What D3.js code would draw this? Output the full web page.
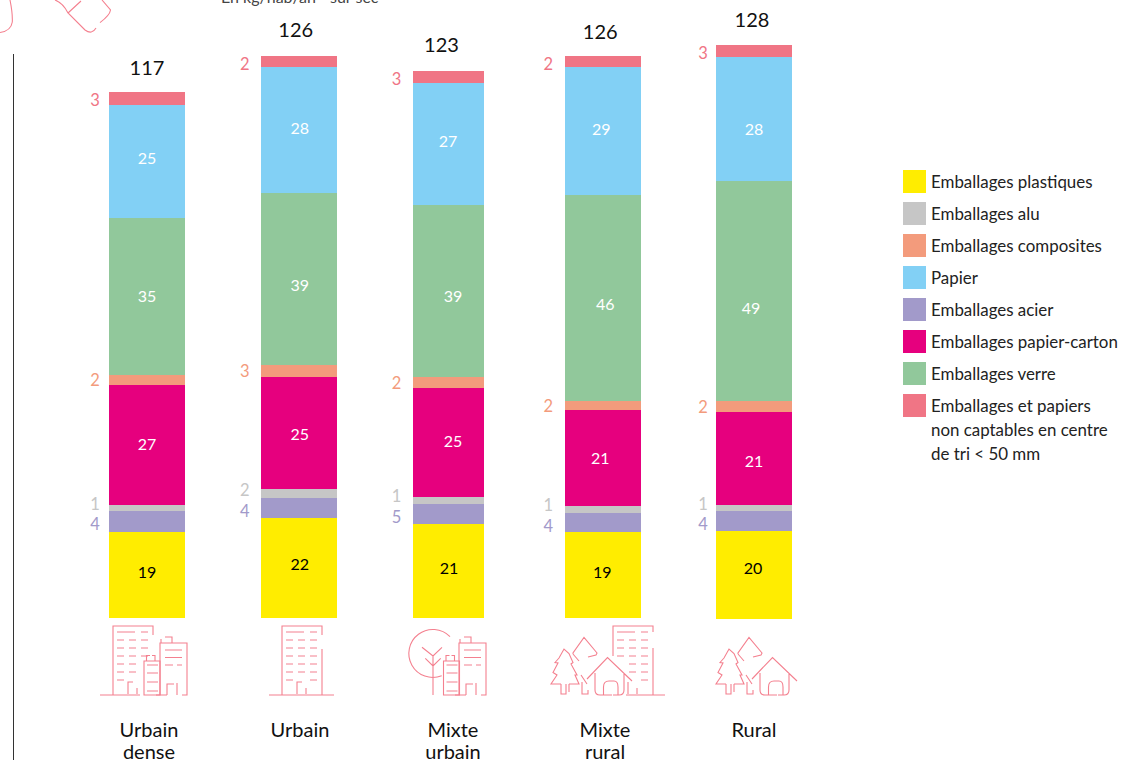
<!DOCTYPE html>
<html>
<head>
<meta charset="utf-8">
<script src="https://cdn.jsdelivr.net/npm/d3@7"></script>
<style>
  html, body { margin: 0; padding: 0; background: #fff; overflow: hidden; }
  svg { display: block; }
  text { font-family: Lato, sans-serif; }
</style>
</head>
<body>
<svg id="chart" width="1137" height="760"></svg>
<script>
const categories = ['Urbain dense', 'Urbain', 'Mixte urbain', 'Mixte rural', 'Rural'];
const totals = [117, 126, 123, 126, 128];

// Heights, in kg/hab/an
const plastiques = [19.1, 22.2, 20.9, 19.1, 19.6];
const acier = [4.7, 4.4, 4.4, 4.2, 4.4];
const alu = [1.3, 2, 1.6, 1.6, 1.3];
const carton = [26.7, 24.9, 24.2, 21.3, 20.7];
const composites = [2.2, 2.7, 2.4, 2, 2.4];
const verre = [34.9, 38.2, 38.2, 45.8, 48.9];
const papier = [25.1, 28, 27.1, 28.4, 27.6];
const nonCaptables = [2.9, 2.4, 2.7, 2.4, 2.7];

// Numbers printed on the chart (they are rounded, not always the same as the heights)
const plastiquesLabels = [19, 22, 21, 19, 20];
const acierLabels = [4, 4, 5, 4, 4];
const aluLabels = [1, 2, 1, 1, 1];
const cartonLabels = [27, 25, 25, 21, 21];
const compositesLabels = [2, 3, 2, 2, 2];
const verreLabels = [35, 39, 39, 46, 49];
const papierLabels = [25, 28, 27, 29, 28];
const nonCaptablesLabels = [3, 2, 3, 2, 3];

const legendItems = [
  { key: 'plastiques', lines: ['Emballages plastiques'] },
  { key: 'alu', lines: ['Emballages alu'] },
  { key: 'composites', lines: ['Emballages composites'] },
  { key: 'papier', lines: ['Papier'] },
  { key: 'acier', lines: ['Emballages acier'] },
  { key: 'carton', lines: ['Emballages papier-carton'] },
  { key: 'verre', lines: ['Emballages verre'] },
  { key: 'nonCaptables', lines: ['Emballages et papiers', 'non captables en centre', 'de tri < 50 mm'] }
];

const colors = {
  plastiques: '#ffed00', acier: '#a29aca', alu: '#c6c6c6', carton: '#e6007e',
  composites: '#f39b7c', verre: '#91c89b', papier: '#82d0f5', nonCaptables: '#f07585'
};

const seriesValues = { plastiques, acier, alu, carton, composites, verre, papier, nonCaptables };
const seriesLabels = {
  plastiques: plastiquesLabels, acier: acierLabels, alu: aluLabels, carton: cartonLabels,
  composites: compositesLabels, verre: verreLabels, papier: papierLabels, nonCaptables: nonCaptablesLabels
};
const stackOrder = ['plastiques', 'acier', 'alu', 'carton', 'composites', 'verre', 'papier', 'nonCaptables'];
const insideKeys = ['plastiques', 'carton', 'verre', 'papier'];

// Hand placement of the original, per column
const barWidthNudge = [0, 0, -5, 0, 0];
const baseNudge = [0, 0, 0, 0, 1];
const totalNudgeX = [0, -3, -9, -2, -2];
const totalNudgeY = [0, -3, -3, -1, 0];
const sideNudgeX = [0, -2, -2, -2, 1];
const sideNudgeY = { acier: 3, alu: -4, composites: 0, nonCaptables: 2 };
const insideNudge = {
  papier: [[0, -3.5], [1, -2], [-2.5, -3], [-1, -2], [0, 10]],
  verre: [[0, 0], [1, 6], [2.5, 5], [3, 6], [-3, 17]],
  carton: [[0, -1], [1, 1], [2.5, -1], [-2, 0], [0, 3]],
  plastiques: [[0, -3], [1, -4], [-1.5, -3], [0, -3], [-1, -7]]
};
const categoryCenters = [149, 300, 453, 605, 754];

const svg = d3.select('#chart');
const pink = '#f4808f';

const table = categories.map((c, i) => {
  const row = { category: c, index: i };
  stackOrder.forEach((k) => { row[k] = seriesValues[k][i]; });
  return row;
});

const stacked = d3.stack().keys(stackOrder)(table);

const x = d3.scaleBand()
  .domain(categories)
  .range([109.4, 792.4])
  .paddingInner(0.4993);

const y = d3.scaleLinear()
  .domain([0, 130])
  .range([618, 618 - 130 * 4.5]);

// Bars
const layers = svg.append('g')
  .selectAll('g')
  .data(stacked)
  .join('g')
  .attr('fill', (d) => colors[d.key]);

layers.selectAll('rect')
  .data((d) => d)
  .join('rect')
  .attr('x', (d) => x(d.data.category))
  .attr('y', (d) => y(d[1]) + baseNudge[d.data.index])
  .attr('width', (d) => x.bandwidth() + barWidthNudge[d.data.index])
  .attr('height', (d) => y(d[0]) - y(d[1]))
  .attr('shape-rendering', 'crispEdges');

// Numbers inside the bars
stacked.filter((s) => insideKeys.includes(s.key)).forEach((s) => {
  svg.append('g')
    .selectAll('text')
    .data(s)
    .join('text')
    .attr('x', (d) => x(d.data.category) + 37.6 + insideNudge[s.key][d.data.index][0])
    .attr('y', (d) => (y(d[0]) + y(d[1])) / 2 + insideNudge[s.key][d.data.index][1] + baseNudge[d.data.index])
    .attr('dy', '0.36em')
    .attr('text-anchor', 'middle')
    .attr('font-size', 16)
    .attr('fill', s.key === 'plastiques' ? '#000' : '#fff')
    .text((d) => seriesLabels[s.key][d.data.index]);
});

// Numbers beside the bars, coloured like their segment
stacked.filter((s) => !insideKeys.includes(s.key)).forEach((s) => {
  svg.append('g')
    .selectAll('text')
    .data(s)
    .join('text')
    .attr('x', (d) => x(d.data.category) - 14.4 + sideNudgeX[d.data.index])
    .attr('y', (d) => (y(d[0]) + y(d[1])) / 2 + sideNudgeY[s.key] + baseNudge[d.data.index])
    .attr('dy', '0.36em')
    .attr('text-anchor', 'middle')
    .attr('font-size', 16.5)
    .attr('fill', colors[s.key])
    .text((d) => seriesLabels[s.key][d.data.index]);
});

// Totals on top
svg.append('g')
  .selectAll('text')
  .data(stacked[stacked.length - 1])
  .join('text')
  .attr('x', (d) => x(d.data.category) + 37.6 + totalNudgeX[d.data.index])
  .attr('y', (d) => y(d[1]) - 16.5 + totalNudgeY[d.data.index])
  .attr('text-anchor', 'middle')
  .attr('font-size', 20)
  .attr('fill', '#111')
  .text((d) => totals[d.data.index]);

// Category names
svg.append('g')
  .selectAll('text')
  .data(categories)
  .join('text')
  .attr('text-anchor', 'middle')
  .attr('font-size', 20)
  .attr('fill', '#111')
  .each(function (d, i) {
    const words = d.split(' ');
    d3.select(this).selectAll('tspan')
      .data(words)
      .join('tspan')
      .attr('x', categoryCenters[i])
      .attr('y', (w, j) => 737 + j * 22)
      .text((w) => w);
  });

// Legend
const legend = svg.append('g');
legendItems.forEach((item, i) => {
  const top = 170 + i * 32;
  legend.append('rect')
    .attr('x', 903).attr('y', top)
    .attr('width', 23).attr('height', 23)
    .attr('fill', colors[item.key]);
  legend.append('text')
    .attr('font-size', 16.9)
    .attr('fill', '#222')
    .selectAll('tspan')
    .data(item.lines)
    .join('tspan')
    .attr('x', 931)
    .attr('y', (l, j) => top + 18 + j * 24)
    .text((l) => l);
});

// Page furniture cut by the crop of the original
svg.append('line')
  .attr('x1', 13.5).attr('x2', 13.5)
  .attr('y1', 54).attr('y2', 760)
  .attr('stroke', '#333');

svg.append('text')
  .attr('x', 221).attr('y', 3)
  .attr('font-size', 16)
  .attr('fill', '#444')
  .text('En kg/hab/an - sur sec');

// Icons below the bars: thin pink line drawings
const icons = svg.append('g')
  .attr('fill', 'none')
  .attr('stroke', pink)
  .attr('stroke-width', 1.1);

function draw(dx, dy, d) {
  icons.append('path').attr('transform', `translate(${dx},${dy})`).attr('d', d);
}

function dashes(rows) {
  return rows.map(([yy, cols]) => cols.map(([a, b]) => `M${a} ${yy}H${b}`).join('')).join('');
}

const c1 = [4, 11], c2 = [16, 23], c3 = [28, 35];

function tower(dx, type) {
  let rows;
  if (type === 'dense') {
    rows = [[6, [[4, 22], [28, 35]]], [14, [c1, c2, c3]], [22, [c1, c2, c3]], [30, [c1, c2, c3]],
      [38, [c1, c2]], [46, [c1, c2]], [54, [c1]]];
    draw(dx, 626, 'M0 69V0H40V9M-13 69H27M15 68V56H20M24 62V68' + dashes(rows));
  } else if (type === 'urbain') {
    rows = [[6, [[4, 22], [28, 35]]], [14, [c1, c2, c3]], [22, [c1, c2, c3]], [30, [c1, c2, c3]],
      [38, [c1, c2, c3]], [46, [c1, c2, c3]], [54, [c1, c3]]];
    draw(dx, 626, 'M0 69V0H40V9M40 23V69M-13 69H52M15 68V56H20M24 62V68' + dashes(rows));
  } else {
    rows = [[6, [[4, 22], [28, 35]]], [14, [c1, c2, c3]], [22, [c1, c2, c3]], [30, [c1, c2, c3]],
      [38, [c2, c3]], [46, [c2, c3]], [54, [c3]]];
    draw(dx, 626, 'M0 30V0H40V6M40 22V69M13 69H52M15 68V56M24 62V68' + dashes(rows));
  }
}

function midBuilding(dx) {
  draw(dx, 643, 'M0 52V0H27V52H22M1 0V-4M12 0V-6H5M7 52V41H14M17 40V52M5 7H22M5 14.5H22M5 22H13M17 22H22M-4 52H7');
}

function smallBuilding(dx) {
  draw(dx, 661, 'M0 34V0H16V34ZM2.5 0V-5.5H6M8 -5.5H11V0M3 4H14M3 12H14M3 21H14M3 30H14');
}

function roundTree() {
  draw(0, 0, 'M450 636.7A24 24 0 1 0 441.7 675.8M433 656V695M422 647.3L433 656L442 647.3M425.3 658.3L433 666L440.7 658.3');
}

function trees(dx) {
  draw(dx, 0, 'M561 684H551L557 675L553 672.5L558 663L555 662.5L559 658L564 649L569 653.5L573 662.5L571 664L577 675L575 675L579 684H569'
    + 'M561 684V694H566V684M569 684V692'
    + 'M573 654L573 653L584 637.5L597 653L596 655L588 657M579 661L573 654'
    + 'M581 675L587 684M582 682V694H588V690'
    + 'M587 679L607.5 657.5L632 681'
    + 'M595 673V690Q595 695 600 695H612M624 673V690Q624 695 619 695H613'
    + 'M603.5 695V687Q603.5 681 609 681H614Q618 681 618 687V695');
}

tower(113, 'dense');
midBuilding(160);
smallBuilding(144);

tower(282, 'urbain');

roundTree();
midBuilding(459);
smallBuilding(443.5);

trees(0);
tower(613, 'rural');

trees(165);

// Pieces of the header icons, cut by the top edge
icons.append('path')
  .attr('d', 'M10 0C12 10 12.5 18 12.3 22Q11 31 0 32.5M55 0Q63 3 68 13L85 30Q92 35 96 28M68 13L81 1M102 0L110.5 10Q110 15 100 22.6');
</script>
</body>
</html>
